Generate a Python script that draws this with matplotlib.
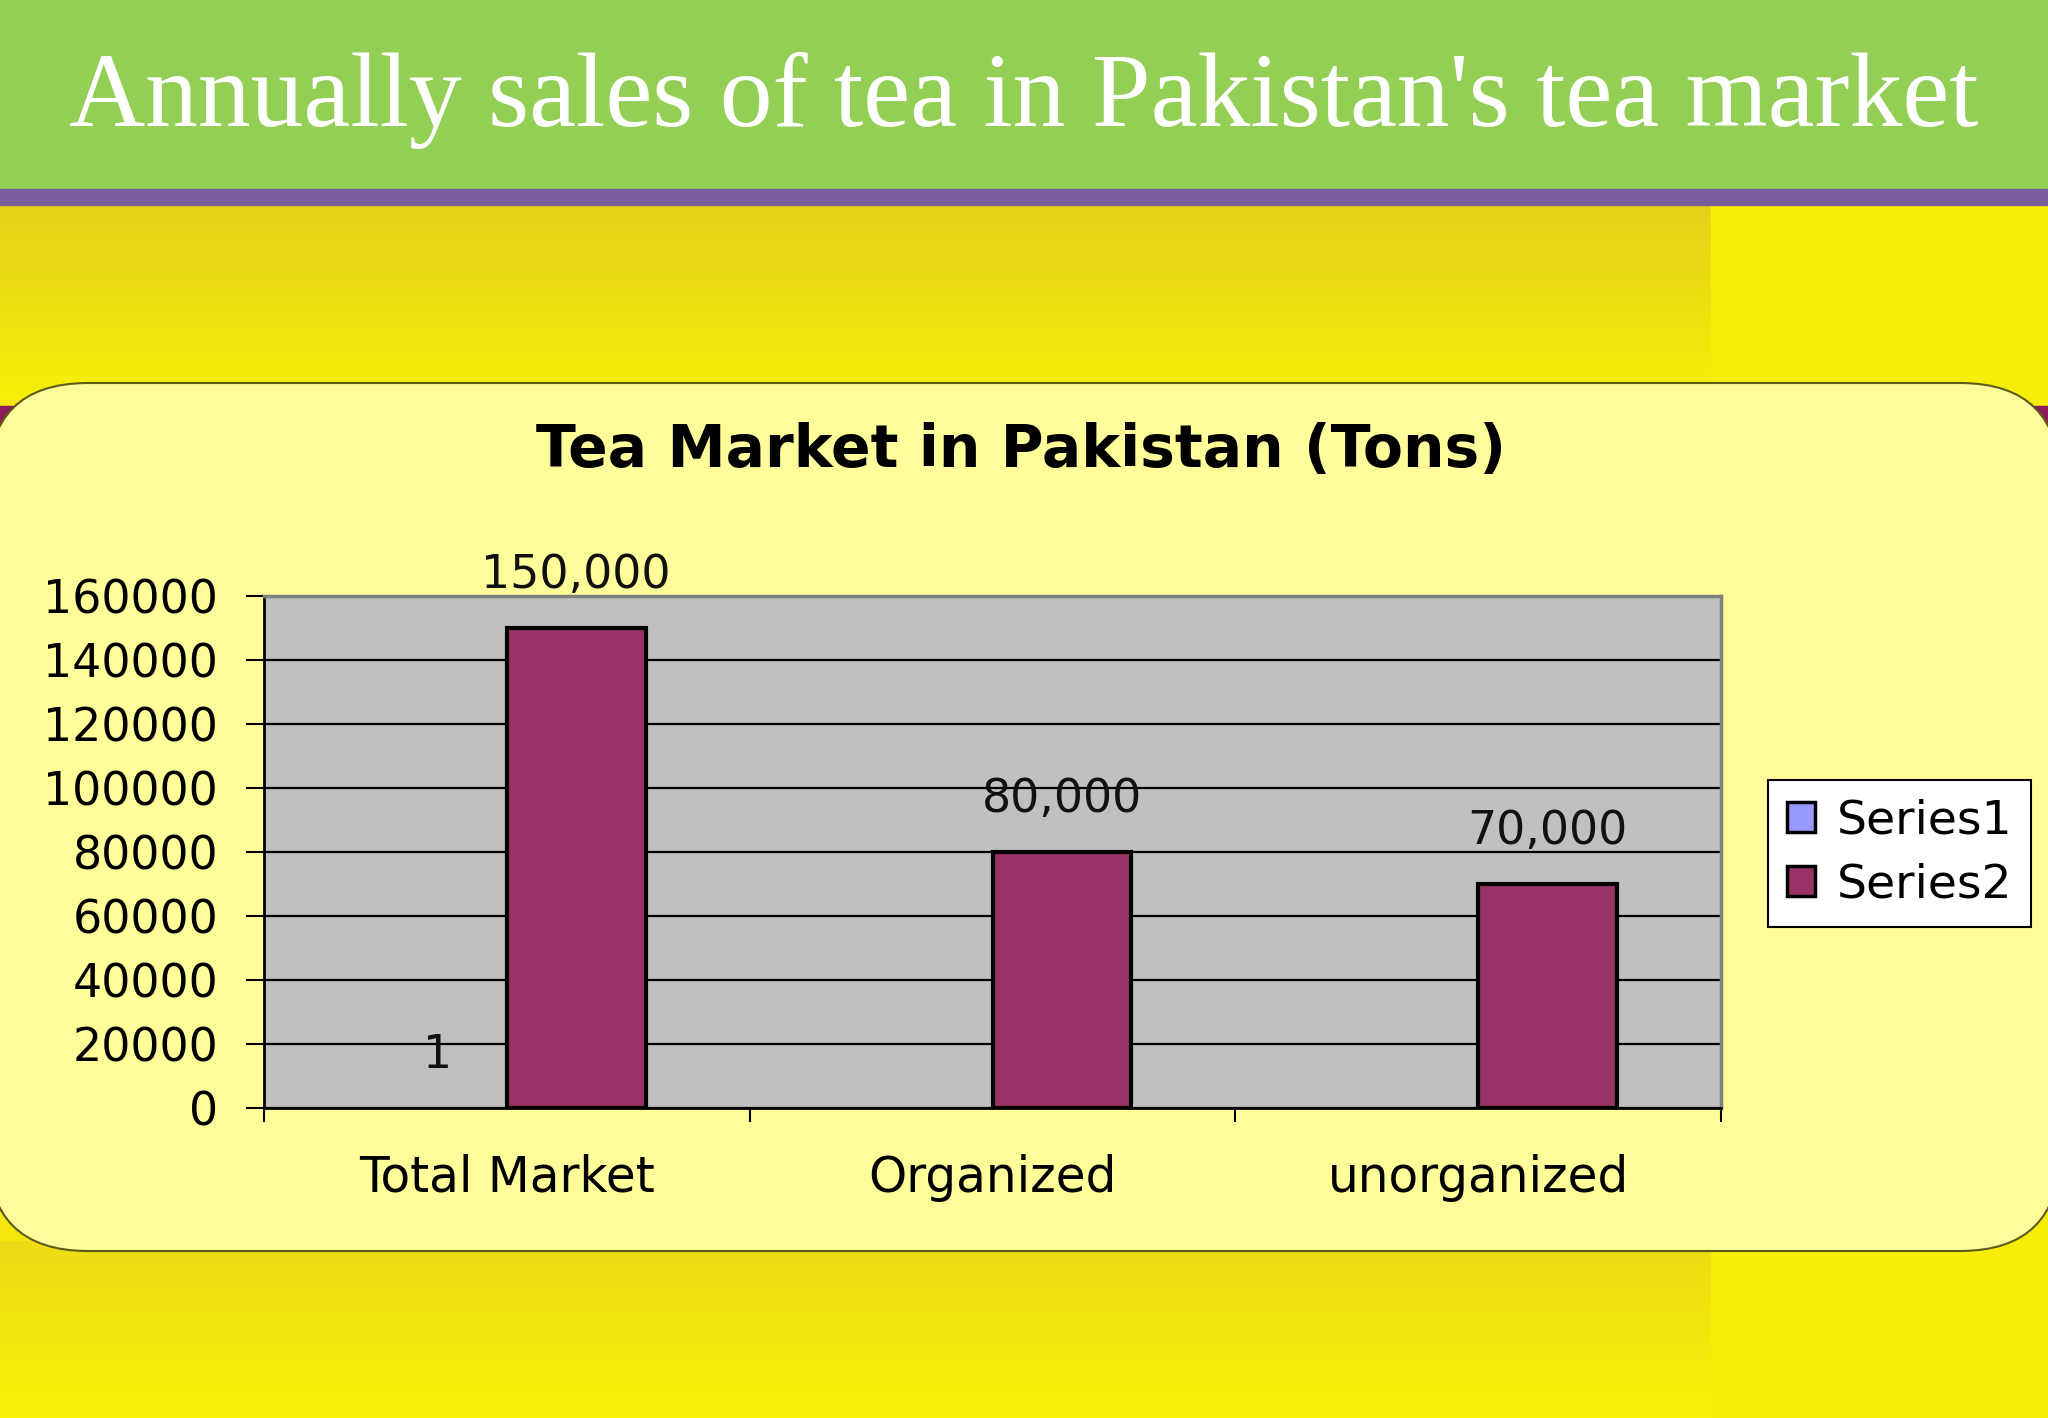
import numpy as np
import matplotlib
matplotlib.use("Agg")
import matplotlib.pyplot as plt
from matplotlib.patches import Rectangle, FancyBboxPatch, Patch

# chart data
categories = ["Total Market", "Organized", "unorganized"]
series1 = [1, np.nan, np.nan]
series2 = [150000, 80000, 70000]
series_names = ["Series1", "Series2"]
y_ticks = [0, 20000, 40000, 60000, 80000, 100000, 120000, 140000, 160000]

page_title = "Annually sales of tea in Pakistan's tea market"
chart_title = "Tea Market in Pakistan (Tons)"

W, H = 2048, 1418
fig = plt.figure(figsize=(W / 100, H / 100), dpi=100)

# slide background, drawn in pixel coordinates
bg = fig.add_axes([0, 0, 1, 1])
bg.set_xlim(0, W)
bg.set_ylim(H, 0)
bg.axis("off")


def shaded(c_top, c_bot, n=64):
    t = np.linspace(0, 1, n)[:, None, None]
    g = np.array(c_top) + (np.array(c_bot) - np.array(c_top)) * t
    return np.repeat(g, 2, axis=1)


# yellow backdrop: darker just under the header, brighter further down
bg.imshow(shaded([0.89, 0.82, 0.10], [0.97, 0.94, 0.03]),
          extent=(0, 1711, 400, 205), aspect="auto", zorder=0)
bg.imshow(shaded([0.93, 0.86, 0.08], [0.97, 0.95, 0.03]),
          extent=(0, 1711, H, 1240), aspect="auto", zorder=0)
bg.add_patch(Rectangle((0, 400), 1711, 840, color="#F3E80A", zorder=0))
bg.add_patch(Rectangle((1711, 205), W - 1711, H - 205, color="#F6EE06", zorder=0.5))

# header band
bg.add_patch(Rectangle((0, 0), W, 189, color="#93CF55", zorder=1))
bg.add_patch(Rectangle((0, 189), W, 16, color="#7A5E9C", zorder=1))
bg.text(W / 2, 100, page_title, color="white", fontsize=76,
        family="Liberation Serif", ha="center", va="center", zorder=2)

# dark strip peeking out behind the chart panel
bg.add_patch(Rectangle((0, 406), W, 500, color="#8C1B5E", zorder=1))

# rounded chart panel
bg.add_patch(FancyBboxPatch((-12, 383), W + 24, 868,
                            boxstyle="round,pad=0,rounding_size=100",
                            facecolor="#FFFD99", edgecolor="#5E5A1C",
                            lw=1.5, zorder=2))
bg.text(1021, 451, chart_title, fontsize=42, fontweight="bold",
        ha="center", va="center", zorder=3)

# the bar chart itself
ax = fig.add_axes([264 / W, 1 - 1108 / H, (1721 - 264) / W, (1108 - 596) / H])
ax.set_facecolor("#C0C0C0")
ax.set_zorder(3)

x = np.arange(len(categories))
w = 1 / 3.5
ax.bar(x - w / 2, series1, w, color="#9999FF", edgecolor="black", lw=1, zorder=3)
ax.bar(x + w / 2, series2, w, color="#993366", edgecolor="black", lw=3, zorder=3)

for xs, vals in ((x - w / 2, series1), (x + w / 2, series2)):
    for xi, v in zip(xs, vals):
        if np.isnan(v):
            continue
        ax.annotate(f"{v:,.0f}", (xi, v), xytext=(0, 38), textcoords="offset points",
                    ha="center", va="center", fontsize=33, color="#111111",
                    annotation_clip=False)

ax.set_xlim(-0.5, len(categories) - 0.5)
ax.set_ylim(0, 160000)
ax.set_yticks(y_ticks)
ax.set_yticklabels([str(t) for t in y_ticks])
ax.yaxis.grid(True, color="black", lw=1.6)
ax.set_axisbelow(True)

ax.set_xticks(x)
ax.set_xticklabels(categories)
ax.set_xticks(np.arange(len(categories) + 1) - 0.5, minor=True)
ax.tick_params(axis="x", which="major", length=0, pad=33, labelsize=35)
ax.tick_params(axis="x", which="minor", length=10, width=1.5, direction="out")
ax.tick_params(axis="y", length=13, width=1.5, pad=20, labelsize=33)

for side in ("top", "right"):
    ax.spines[side].set_color("#808080")
    ax.spines[side].set_linewidth(2.5)
for side in ("left", "bottom"):
    ax.spines[side].set_color("black")
    ax.spines[side].set_linewidth(2)
ax.spines["bottom"].set_zorder(4)

handles = [Patch(facecolor="#9999FF", edgecolor="black", lw=2.5, label=series_names[0]),
           Patch(facecolor="#993366", edgecolor="black", lw=2.5, label=series_names[1])]
leg = fig.legend(handles=handles, loc="upper left",
                 bbox_to_anchor=(1768 / W, 1 - 780 / H), borderaxespad=0,
                 fontsize=34, frameon=True, fancybox=False, framealpha=1,
                 facecolor="white", edgecolor="black",
                 handlelength=0.6, handleheight=0.6, handletextpad=0.45,
                 labelspacing=0.4, borderpad=0.4)
leg.get_frame().set_linewidth(1.5)
leg.set_zorder(4)

fig.savefig("out.png", dpi=100)
